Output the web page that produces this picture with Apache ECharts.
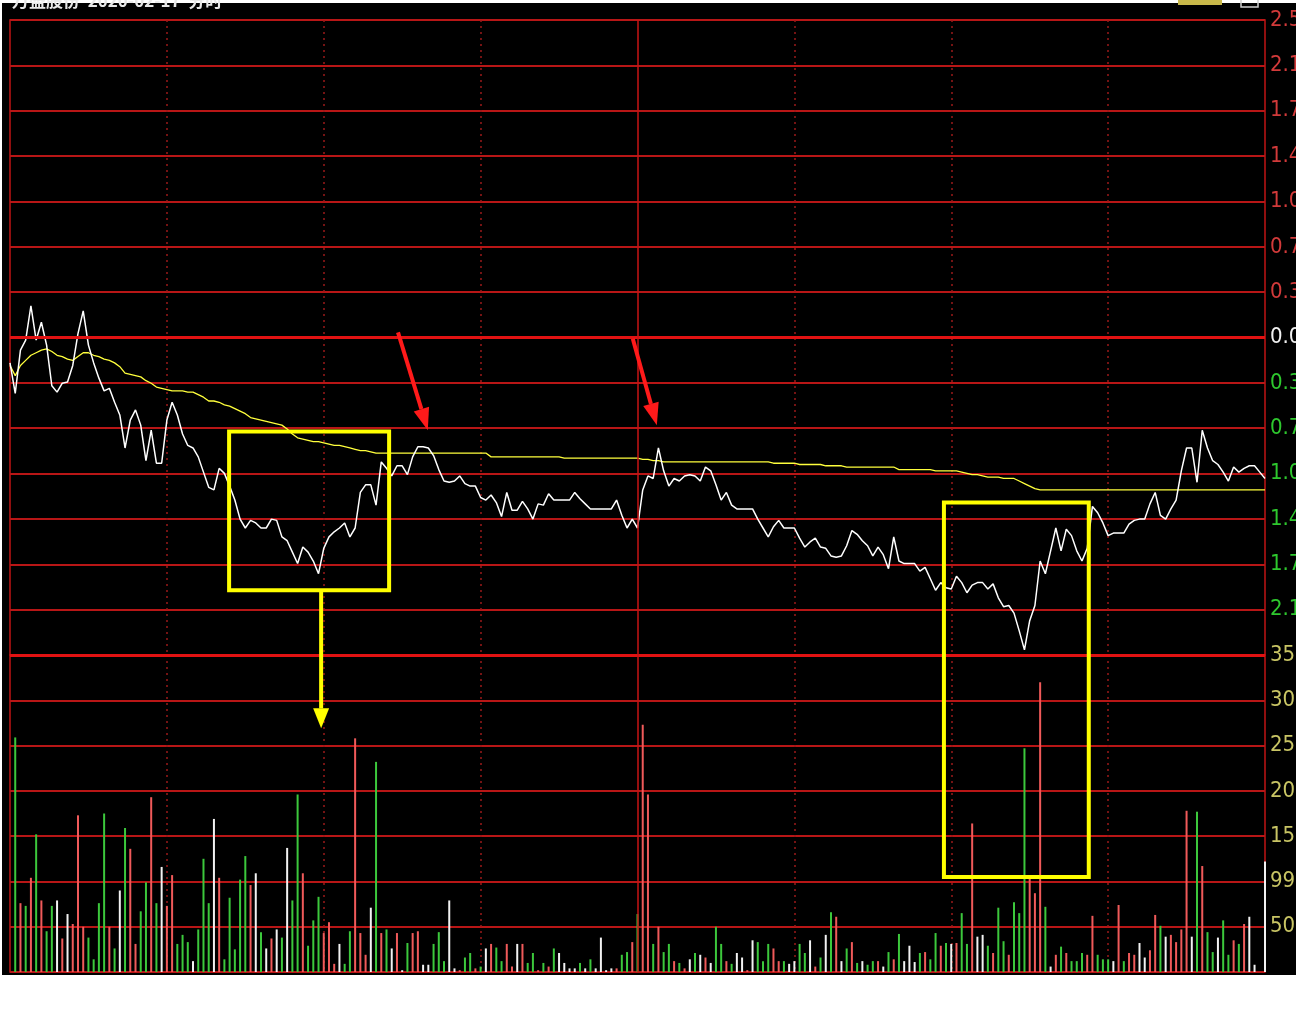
<!DOCTYPE html>
<html><head><meta charset="utf-8">
<script src="https://cdn.jsdelivr.net/npm/echarts@6/dist/echarts.min.js"></script>
<style>
html,body{margin:0;padding:0;background:#fff;width:1296px;height:1030px;overflow:hidden;}
#bg{position:absolute;left:2px;top:3px;width:1294px;height:972px;background:#000;}
#chart{position:absolute;left:0;top:0;width:1296px;height:1030px;}
</style></head><body>
<div id="bg"></div><div id="chart"></div>
<script>
// ---- categories: trading minutes 09:30-11:30, 13:01-15:00 ----
const times = [];
function hm(t){const h=Math.floor(t/60),m=t%60;return (h<10?'0':'')+h+':'+(m<10?'0':'')+m;}
for(let m=0;m<=120;m++) times.push(hm(570+m));
for(let m=1;m<=120;m++) times.push(hm(780+m));

// ---- price change (%) of the intraday line ----
const pricePct = [
 -0.20,-0.44,-0.10,-0.02,0.25,-0.02,0.12,-0.06,-0.38,-0.43,
 -0.36,-0.35,-0.22,0.03,0.21,-0.06,-0.20,-0.32,-0.42,-0.40,
 -0.51,-0.61,-0.87,-0.65,-0.57,-0.69,-0.97,-0.73,-0.99,-0.99,
 -0.65,-0.51,-0.61,-0.76,-0.85,-0.87,-0.94,-1.06,-1.18,-1.20,
 -1.03,-1.07,-1.17,-1.28,-1.43,-1.50,-1.44,-1.46,-1.50,-1.50,
 -1.43,-1.44,-1.57,-1.60,-1.69,-1.78,-1.65,-1.69,-1.76,-1.86,
 -1.66,-1.57,-1.53,-1.50,-1.46,-1.57,-1.50,-1.22,-1.16,-1.16,
 -1.32,-0.98,-1.03,-1.09,-1.01,-1.01,-1.08,-0.94,-0.86,-0.86,
 -0.87,-0.93,-1.04,-1.13,-1.14,-1.13,-1.09,-1.15,-1.17,-1.17,
 -1.26,-1.28,-1.24,-1.30,-1.41,-1.22,-1.36,-1.36,-1.29,-1.35,
 -1.43,-1.31,-1.32,-1.23,-1.28,-1.28,-1.28,-1.28,-1.22,-1.27,
 -1.31,-1.35,-1.35,-1.35,-1.35,-1.35,-1.28,-1.40,-1.50,-1.43,
 -1.50,-1.20,-1.09,-1.11,-0.87,-1.05,-1.17,-1.11,-1.13,-1.09,
 -1.08,-1.09,-1.13,-1.02,-1.05,-1.16,-1.28,-1.22,-1.32,-1.35,
 -1.35,-1.35,-1.35,-1.43,-1.50,-1.57,-1.49,-1.44,-1.50,-1.50,
 -1.50,-1.58,-1.65,-1.61,-1.58,-1.65,-1.66,-1.72,-1.73,-1.72,
 -1.64,-1.52,-1.55,-1.60,-1.64,-1.72,-1.65,-1.71,-1.82,-1.57,
 -1.76,-1.78,-1.78,-1.78,-1.84,-1.81,-1.90,-1.99,-1.93,-1.97,
 -1.98,-1.88,-1.93,-2.01,-1.95,-1.93,-1.93,-1.98,-1.94,-2.05,
 -2.12,-2.11,-2.17,-2.31,-2.46,-2.23,-2.11,-1.76,-1.86,-1.68,
 -1.50,-1.68,-1.51,-1.56,-1.68,-1.76,-1.66,-1.33,-1.38,-1.46,
 -1.56,-1.54,-1.54,-1.54,-1.47,-1.44,-1.43,-1.43,-1.31,-1.22,
 -1.40,-1.43,-1.35,-1.28,-1.05,-0.87,-0.87,-1.14,-0.73,-0.87,
 -0.97,-1.00,-1.06,-1.13,-1.02,-1.06,-1.03,-1.01,-1.01,-1.06,
 -1.11
];

// ---- average price line (%) ----
const avgPct = [
 -0.22,-0.30,-0.22,-0.18,-0.14,-0.12,-0.10,-0.09,-0.11,-0.14,
 -0.15,-0.17,-0.18,-0.15,-0.12,-0.12,-0.14,-0.15,-0.17,-0.18,
 -0.20,-0.23,-0.28,-0.29,-0.30,-0.31,-0.34,-0.36,-0.39,-0.40,
 -0.41,-0.42,-0.42,-0.42,-0.43,-0.43,-0.45,-0.47,-0.50,-0.50,
 -0.51,-0.53,-0.54,-0.56,-0.58,-0.60,-0.63,-0.64,-0.65,-0.66,
 -0.67,-0.68,-0.69,-0.72,-0.76,-0.79,-0.80,-0.81,-0.82,-0.82,
 -0.83,-0.84,-0.85,-0.85,-0.86,-0.87,-0.88,-0.89,-0.89,-0.90,
 -0.91,-0.91,-0.91,-0.91,-0.91,-0.91,-0.91,-0.91,-0.91,-0.91,
 -0.91,-0.91,-0.91,-0.91,-0.91,-0.91,-0.91,-0.91,-0.91,-0.91,
 -0.91,-0.91,-0.94,-0.94,-0.94,-0.94,-0.94,-0.94,-0.94,-0.94,
 -0.94,-0.94,-0.94,-0.94,-0.94,-0.94,-0.95,-0.95,-0.95,-0.95,
 -0.95,-0.95,-0.95,-0.95,-0.95,-0.95,-0.95,-0.95,-0.95,-0.95,
 -0.95,-0.96,-0.96,-0.97,-0.97,-0.98,-0.98,-0.98,-0.98,-0.98,
 -0.98,-0.98,-0.98,-0.98,-0.98,-0.98,-0.98,-0.98,-0.98,-0.98,
 -0.98,-0.98,-0.98,-0.98,-0.98,-0.98,-0.99,-0.99,-0.99,-0.99,
 -0.99,-1.00,-1.00,-1.00,-1.00,-1.00,-1.01,-1.01,-1.01,-1.01,
 -1.02,-1.02,-1.02,-1.02,-1.02,-1.02,-1.02,-1.02,-1.02,-1.02,
 -1.04,-1.04,-1.04,-1.04,-1.04,-1.04,-1.04,-1.05,-1.05,-1.05,
 -1.05,-1.05,-1.06,-1.07,-1.08,-1.08,-1.09,-1.10,-1.10,-1.10,
 -1.11,-1.11,-1.11,-1.13,-1.15,-1.17,-1.19,-1.20,-1.20,-1.20,
 -1.20,-1.20,-1.20,-1.20,-1.20,-1.20,-1.20,-1.20,-1.20,-1.20,
 -1.20,-1.20,-1.20,-1.20,-1.20,-1.20,-1.20,-1.20,-1.20,-1.20,
 -1.20,-1.20,-1.20,-1.20,-1.20,-1.20,-1.20,-1.20,-1.20,-1.20,
 -1.20,-1.20,-1.20,-1.20,-1.20,-1.20,-1.20,-1.20,-1.20,-1.20,
 -1.20
];

// ---- volume per minute ----
const volumes = [
 0,25900,7600,7300,10400,15200,7900,4500,7300,7900,
 3700,6400,5300,17300,5000,3800,1400,7600,17500,5000,
 2600,9000,15900,13600,3100,6700,9900,19300,7600,11600,
 7300,10700,3100,4100,3300,1200,4700,12500,7600,16900,
 10400,1400,8200,2500,10200,12800,9600,10900,4400,2600,
 3700,4700,3800,13700,7900,19600,10900,2900,5700,8300,
 4300,5500,900,3100,900,4500,25800,4300,1900,7100,
 23200,4300,4700,2600,4300,200,3200,4300,4500,800,
 800,3100,4400,1200,7900,400,200,1600,2100,400,
 600,2600,3100,2700,1200,3100,600,3100,3100,1000,
 2100,200,1000,600,2600,2100,1000,400,400,1000,
 400,1400,400,3800,200,400,400,1900,2200,3300,
 6400,27300,19600,3100,5000,2200,3100,1200,1000,400,
 1400,2100,1900,1600,1000,5000,3100,1200,900,2100,
 1600,200,3500,3300,1200,3100,2600,1200,1200,900,
 1200,3100,2100,3500,600,1600,4100,6600,6100,1200,
 2600,3300,1000,1200,800,1200,1200,600,2200,1400,
 4200,1200,2900,1100,2100,2200,1400,4300,2900,3200,
 3100,3200,6500,3100,16400,3900,4100,2900,2100,7100,
 3400,1900,7700,6500,24700,10300,8700,32000,7200,600,
 1900,2800,2100,1200,1200,2100,1900,6200,1900,1400,
 1400,1200,7400,1200,2100,1900,3200,1600,2400,6300,
 5100,3900,4100,3300,4700,17800,3900,17700,11700,4400,
 2200,3800,5700,1900,3500,3100,5300,6100,800,0,
 12200
];
// ---- bar direction: r = up, g = down, w = unchanged ----
const volDirs = (
 'wgrgrgrggw'+'rwrrrggggr'+'gwgrrggrgw'+'rrgggwgggw'+'rgggggrwgw'+
 'rwgwggrggg'+'rrrwggrrrw'+'grgwrwgrrw'+'wgggwwrggr'+'gwrggrrwrg'+
 'grgrgwwwwg'+'wgwwwwrggr'+'grrgrggrgr'+'wgwrwggrgw'+'wrwgggrrgw'+
 'wggwrgwgrw'+'grgwggrwgr'+'gwwwgrggrg'+'wrggrwwgrg'+'grgggrrrgw'+
 'rgrgggrrgg'+'gwrgrrwwrr'+'gwrrrrwgrg'+'gwggrgrwww'+'w').split('');

// ---- tick labels ----
const priceTickLabels = ['', '2.14%','1.79%','1.43%','1.07%','0.71%','0.36%','0.00%','0.36%','0.71%','1.07%','1.43%','1.79%','2.14%','2.50%'];
const volTickLabels = ['', '5000','9999','15000','20000','25000','30000','35000'];

const PSTEP = 2.5/7;
const dirColor = {r:'#f05a5a', g:'#3cc83c', w:'#f2f2f2'};
const labelFont = '"Liberation Sans Narrow","DejaVu Sans Condensed",sans-serif';

const chart = echarts.init(document.getElementById('chart'), null, {renderer:'canvas'});

function xAxisCfg(gi){
  return {
    type:'category', gridIndex:gi, data:times, boundaryGap:false,
    axisLine:{show:false}, axisTick:{show:false}, axisLabel:{show:false},
    splitLine:{show:true,
      interval:function(i){return i%30===0 && i!==0 && i!==120 && i!==240;},
      lineStyle:{color:'#9a1a1a', width:1.5, type:[2,4]}}
  };
}

const option = {
  animation:false,
  backgroundColor:'transparent',
  grid:[
    {left:10, right:31, top:20, height:635, show:true, borderColor:'#c01414', borderWidth:1.5, backgroundColor:'transparent', containLabel:false, outerBoundsMode:'none'},
    {left:10, right:31, top:655, height:317, show:true, borderColor:'#c01414', borderWidth:1.5, backgroundColor:'transparent', containLabel:false, outerBoundsMode:'none'}
  ],
  xAxis:[xAxisCfg(0), xAxisCfg(1)],
  yAxis:[
    {type:'value', gridIndex:0, position:'right', min:-2.5, max:2.5, interval:PSTEP,
     axisLine:{show:false}, axisTick:{show:false},
     splitLine:{show:true, lineStyle:{color:'#b81616', width:2}},
     axisLabel:{margin:5, fontFamily:labelFont, fontSize:22,
       formatter:function(v){return priceTickLabels[Math.round(v/PSTEP)+7]||'';},
       color:function(v){var f=parseFloat(v); if(Math.abs(f)<1e-6) return '#f0f0f0'; return f>0?'#d23a3a':'#2ec82e';}}},
    {type:'value', gridIndex:1, position:'right', min:0, max:35000, interval:5000,
     axisLine:{show:false}, axisTick:{show:false},
     splitLine:{show:true, lineStyle:{color:'#b81616', width:2}},
     axisLabel:{margin:5, fontFamily:labelFont, fontSize:22, color:'#c8c464',
       formatter:function(v){return volTickLabels[Math.round(v/5000)]||'';}}}
  ],
  series:[
    {type:'line', name:'price', xAxisIndex:0, yAxisIndex:0, data:pricePct, symbol:'none', z:4,
     lineStyle:{color:'#ffffff', width:1.5},
     markLine:{silent:true, symbol:'none', label:{show:false}, animation:false,
       data:[
         {yAxis:0, lineStyle:{color:'#e01212', width:3, type:'solid'}},
         {yAxis:-2.5, lineStyle:{color:'#e01212', width:3, type:'solid'}},
         {xAxis:times[120], lineStyle:{color:'#c81414', width:1.5, type:'solid'}}
       ]}},
    {type:'line', name:'avg', xAxisIndex:0, yAxisIndex:0, data:avgPct, symbol:'none', z:3,
     lineStyle:{color:'#ffff3c', width:1.3}},
    {type:'bar', name:'vol', xAxisIndex:1, yAxisIndex:1, barWidth:2,
     data:volumes.map(function(v,i){return {value:v, itemStyle:{color:dirColor[volDirs[i]]}};}),
     markLine:{silent:true, symbol:'none', label:{show:false}, animation:false,
       data:[{xAxis:times[120], lineStyle:{color:'#c81414', width:1.5, type:'solid'}}]}}
  ]
};
chart.setOption(option);

// ---- annotations defined in data units ----
function px(gi, i, v){
  const i0 = Math.floor(i), i1 = Math.min(i0+1, times.length-1), t = i - i0;
  const a = chart.convertToPixel({gridIndex:gi}, [i0, v]);
  const b = chart.convertToPixel({gridIndex:gi}, [i1, v]);
  return [a[0] + (b[0]-a[0])*t, a[1]];
}
function arrow(p0, p1, color, w, headLen, headW){
  const dx = p1[0]-p0[0], dy = p1[1]-p0[1], L = Math.sqrt(dx*dx+dy*dy);
  const ux = dx/L, uy = dy/L, nx = -uy, ny = ux;
  const bx = p1[0]-ux*headLen, by = p1[1]-uy*headLen;
  return [
    {type:'line', z:100, shape:{x1:p0[0], y1:p0[1], x2:bx, y2:by}, style:{stroke:color, lineWidth:w}},
    {type:'polygon', z:100, shape:{points:[[p1[0],p1[1]],[bx+nx*headW/2, by+ny*headW/2],[bx-nx*headW/2, by-ny*headW/2]]}, style:{fill:color}}
  ];
}
const b1a = px(0, 41.9, -0.74), b1b = px(0, 72.5, -1.99);
const b2a = px(0, 178.6, -1.30), b2b = px(1, 206.3, 10500);
const ya = px(0, 59.5, -1.99), yb = px(1, 59.5, 26900);
const r1a = px(0, 74.2, 0.04), r1b = px(0, 79.9, -0.73);
const r2a = px(0, 119.1, -0.01), r2b = px(0, 123.7, -0.69);

const graphics = [
  {type:'rect', z:100, shape:{x:b1a[0], y:b1a[1], width:b1b[0]-b1a[0], height:b1b[1]-b1a[1]}, style:{fill:'none', stroke:'#ffff00', lineWidth:4}},
  {type:'rect', z:100, shape:{x:b2a[0], y:b2a[1], width:b2b[0]-b2a[0], height:b2b[1]-b2a[1]}, style:{fill:'none', stroke:'#ffff00', lineWidth:4}},
  {type:'text', z:100, x:12, y:-8, style:{text:'万盛股份  2020-02-17  分时', fill:'#e8e8e8', font:'bold 17px "Noto Sans CJK SC", sans-serif'}},
  {type:'rect', z:100, shape:{x:1178, y:0, width:44, height:5}, style:{fill:'#c8b84a'}},
  {type:'rect', z:100, shape:{x:1241, y:-3, width:17, height:10}, style:{fill:'none', stroke:'#d0d0d0', lineWidth:1.5}}
].concat(arrow(ya, yb, '#ffff00', 4, 20, 16))
 .concat(arrow(r1a, r1b, '#ff1a1a', 4, 22, 16))
 .concat(arrow(r2a, r2b, '#ff1a1a', 4, 22, 16));

chart.setOption({graphic:graphics});
</script>
</body></html>
